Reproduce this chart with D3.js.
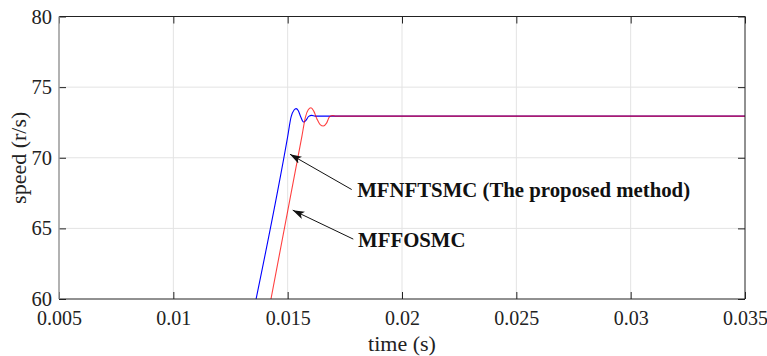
<!DOCTYPE html>
<html>
<head>
<meta charset="utf-8">
<script src="https://cdn.jsdelivr.net/npm/d3@7"></script>
<style>
  body { margin: 0; background: #fff; }
  svg text { font-family: "Liberation Serif", "Times New Roman", serif; }
</style>
</head>
<body>
<div id="chart"></div>
<script>
// Data
const xTicks = [0.005, 0.01, 0.015, 0.02, 0.025, 0.03, 0.035];
const xTickLabels = ["0.005", "0.01", "0.015", "0.02", "0.025", "0.03", "0.035"];
const yTicks = [60, 65, 70, 75, 80];

// MFNFTSMC (blue)
const blueT = [0.01362, 0.01500, 0.01515, 0.01528, 0.01537, 0.01546, 0.01557, 0.01569, 0.01580, 0.01592, 0.01605, 0.01620, 0.035];
const blueV = [60, 71.5, 72.9, 73.38, 73.48, 73.35, 72.9, 72.53, 72.65, 72.93, 73.0, 72.95, 72.95];
// MFFOSMC (red)
const redT = [0.01427, 0.01562, 0.01578, 0.01590, 0.01602, 0.01614, 0.01628, 0.01642, 0.01656, 0.01670, 0.01683, 0.01698, 0.01710, 0.035];
const redV = [60, 71.5, 72.9, 73.4, 73.54, 73.3, 72.75, 72.35, 72.25, 72.45, 72.9, 72.98, 72.95, 72.95];

// annotations: [text, text t, text v, arrow tail t, tail v, head t, head v]
const notes = [
  ["MFNFTSMC (The proposed method)", 0.01804, 67.2, 0.01780, 67.75, 0.01510, 70.25],
  ["MFFOSMC", 0.01808, 63.65, 0.01787, 64.24, 0.01522, 66.29]
];

const margin = { top: 16.5, right: 22, bottom: 57, left: 59 },
      width = 767 - margin.left - margin.right,
      height = 356 - margin.top - margin.bottom;

const svg = d3.select("#chart")
  .append("svg")
  .attr("width", 767)
  .attr("height", 356);

const g = svg.append("g")
  .attr("transform", `translate(${margin.left},${margin.top})`);

const x = d3.scaleLinear().domain([0.005, 0.035]).range([0, width]);
const y = d3.scaleLinear().domain([60, 80]).range([height, 0]);

svg.append("defs").append("clipPath").attr("id", "clip")
  .append("rect").attr("width", width).attr("height", height);

// grid
g.append("g").selectAll("line")
  .data(xTicks.slice(1, -1))
  .join("line")
  .attr("x1", d => x(d)).attr("x2", d => x(d))
  .attr("y1", 0).attr("y2", height)
  .attr("stroke", "#e3e3e3").attr("stroke-width", 1);
g.append("g").selectAll("line")
  .data(yTicks.slice(1, -1))
  .join("line")
  .attr("x1", 0).attr("x2", width)
  .attr("y1", d => y(d)).attr("y2", d => y(d))
  .attr("stroke", "#e3e3e3").attr("stroke-width", 1);

// curves
const line = d3.line()
  .x(d => x(d[0]))
  .y(d => y(d[1]))
  .curve(d3.curveMonotoneX);

const plot = g.append("g").attr("clip-path", "url(#clip)");
plot.append("path")
  .datum(blueT.map((t, i) => [t, blueV[i]]))
  .attr("fill", "none")
  .attr("stroke", "#0000ff")
  .attr("stroke-width", 1.1)
  .attr("d", line);
plot.append("path")
  .datum(redT.map((t, i) => [t, redV[i]]))
  .attr("fill", "none")
  .attr("stroke", "#ff0000")
  .attr("stroke-opacity", 0.75)
  .attr("stroke-width", 1.1)
  .attr("d", line);

// axes (MATLAB style box with inward ticks)
const tickLen = 7;
g.append("g")
  .attr("transform", `translate(0,${height})`)
  .call(d3.axisBottom(x).tickValues(xTicks).tickFormat((d, i) => xTickLabels[i])
    .tickSizeInner(-tickLen).tickSizeOuter(0).tickPadding(12))
  .call(a => a.select(".domain").remove())
  .call(a => a.selectAll("text").attr("font-size", 20).attr("fill", "#222"));
g.append("g")
  .call(d3.axisTop(x).tickValues(xTicks).tickFormat("")
    .tickSizeInner(-tickLen).tickSizeOuter(0))
  .call(a => a.select(".domain").remove());
g.append("g")
  .call(d3.axisLeft(y).tickValues(yTicks).tickFormat(d3.format("d"))
    .tickSizeInner(-tickLen).tickSizeOuter(0).tickPadding(7))
  .call(a => a.select(".domain").remove())
  .call(a => a.selectAll("text").attr("font-size", 20.5).attr("fill", "#222"));
g.append("g")
  .attr("transform", `translate(${width},0)`)
  .call(d3.axisRight(y).tickValues(yTicks).tickFormat("")
    .tickSizeInner(-tickLen).tickSizeOuter(0))
  .call(a => a.select(".domain").remove());

g.selectAll(".tick line").attr("stroke", "#222");

// box
g.append("line").attr("x1", 0).attr("x2", width).attr("y1", 0).attr("y2", 0).attr("stroke", "#222");
g.append("line").attr("x1", 0).attr("x2", width).attr("y1", height).attr("y2", height).attr("stroke", "#222");
g.append("line").attr("x1", width).attr("x2", width).attr("y1", 0).attr("y2", height).attr("stroke", "#222");
g.append("line").attr("x1", 0).attr("x2", 0).attr("y1", 0).attr("y2", height).attr("stroke", "#999").attr("stroke-width", 1.5);

// axis titles
g.append("text")
  .attr("x", width / 2)
  .attr("y", height + 52)
  .attr("text-anchor", "middle")
  .attr("font-size", 22)
  .attr("fill", "#222")
  .text("time (s)");
g.append("text")
  .attr("transform", `translate(${-33},${height / 2}) rotate(-90)`)
  .attr("text-anchor", "middle")
  .attr("font-size", 22)
  .attr("fill", "#222")
  .text("speed (r/s)");

// annotations
svg.select("defs").append("marker")
  .attr("id", "arrow")
  .attr("viewBox", "0 0 12 8")
  .attr("refX", 12).attr("refY", 4)
  .attr("markerWidth", 12).attr("markerHeight", 8)
  .attr("markerUnits", "userSpaceOnUse")
  .attr("orient", "auto")
  .append("path")
  .attr("d", "M0,0 L12,4 L0,8 L3,4 Z")
  .attr("fill", "#111");

g.append("g").selectAll("line")
  .data(notes)
  .join("line")
  .attr("x1", d => x(d[3])).attr("y1", d => y(d[4]))
  .attr("x2", d => x(d[5])).attr("y2", d => y(d[6]))
  .attr("stroke", "#111").attr("stroke-width", 1)
  .attr("marker-end", "url(#arrow)");

g.append("g").selectAll("text")
  .data(notes)
  .join("text")
  .attr("x", d => x(d[1]))
  .attr("y", d => y(d[2]))
  .attr("font-size", 20.8)
  .attr("font-weight", "bold")
  .attr("fill", "#111")
  .text(d => d[0]);
</script>
</body>
</html>
